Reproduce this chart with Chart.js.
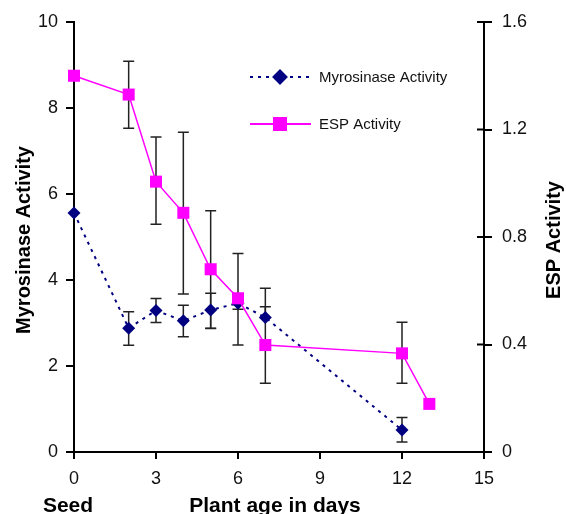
<!DOCTYPE html>
<html>
<head>
<meta charset="utf-8">
<script src="https://cdn.jsdelivr.net/npm/chart.js@4.4.0/dist/chart.umd.min.js"></script>
<style>
  html, body { margin: 0; padding: 0; background: #fff; }
  #wrap { position: relative; width: 566px; height: 514px; }
</style>
</head>
<body>
<div id="wrap"><canvas id="c" width="566" height="514"></canvas></div>
<script>
// ---- Data ----
const myroDays  = [0, 2, 3, 4, 5, 6, 7, 12];
const myroValue = [5.56, 2.88, 3.29, 3.05, 3.30, 3.46, 3.13, 0.51];
const myroHigh  = [null, 3.26, 3.57, 3.41, 3.69, 3.60, 3.38, 0.80];
const myroLow   = [null, 2.48, 3.01, 2.68, 2.88, 3.32, null, 0.23];

const espDays   = [0, 2, 3, 4, 5, 6, 7, 12, 13];
const espValue  = [1.40, 1.33, 1.006, 0.89, 0.68, 0.572, 0.398, 0.367, 0.179];
const espHigh   = [null, 1.454, 1.172, 1.19, 0.898, 0.739, 0.609, 0.483, null];
const espLow    = [null, 1.205, 0.847, 0.588, 0.46, 0.398, 0.256, 0.256, null];

const xTicks     = [0, 3, 6, 9, 12, 15];
const leftTicks  = [0, 2, 4, 6, 8, 10];
const rightTicks = [0, 0.4, 0.8, 1.2, 1.6];

const seriesNames = ['Myrosinase Activity', 'ESP Activity'];
const leftTitle  = 'Myrosinase Activity';
const rightTitle = 'ESP Activity';
const xTitle     = 'Plant age in days';
const xSubLabel  = 'Seed';

// ---- Styling ----
const NAVY = '#000080';
const MAGENTA = '#FF00FF';
const FONT = '"Liberation Sans", Arial, sans-serif';

const toPts = (xs, ys) => xs.map((x, i) => ({ x: x, y: ys[i] }));

const errorBars = {
  id: 'errorBars',
  beforeDatasetsDraw(chart) {
    const ctx = chart.ctx;
    ctx.save();
    ctx.strokeStyle = '#222';
    ctx.lineWidth = 1.5;
    chart.data.datasets.forEach((ds) => {
      const xs = chart.scales.x;
      const ys = chart.scales[ds.yAxisID];
      ds.data.forEach((p, i) => {
        const hi = ds.errHigh[i], lo = ds.errLow[i];
        if (hi == null && lo == null) return;
        const px = xs.getPixelForValue(p.x);
        const py = ys.getPixelForValue(p.y);
        const top = hi != null ? ys.getPixelForValue(hi) : py;
        const bot = lo != null ? ys.getPixelForValue(lo) : py;
        ctx.beginPath();
        ctx.moveTo(px, top); ctx.lineTo(px, bot);
        if (hi != null) { ctx.moveTo(px - 5.5, top); ctx.lineTo(px + 5.5, top); }
        if (lo != null) { ctx.moveTo(px - 5.5, bot); ctx.lineTo(px + 5.5, bot); }
        ctx.stroke();
      });
    });
    ctx.restore();
  }
};

const decorations = {
  id: 'decorations',
  afterDraw(chart) {
    const ctx = chart.ctx;
    const y1 = chart.scales.y1;
    ctx.save();
    // inner half of right-axis tick marks
    ctx.strokeStyle = '#000';
    ctx.lineWidth = 2;
    rightTicks.forEach(v => {
      const py = y1.getPixelForValue(v);
      ctx.beginPath(); ctx.moveTo(y1.left - 7, py); ctx.lineTo(y1.left, py); ctx.stroke();
    });
    // axis titles
    ctx.fillStyle = '#000';
    ctx.font = 'bold 20px ' + FONT;
    ctx.textAlign = 'center';
    ctx.textBaseline = 'middle';
    ctx.save();
    ctx.translate(24, 240);
    ctx.rotate(-Math.PI / 2);
    ctx.fillText(leftTitle, 0, 0);
    ctx.restore();
    ctx.save();
    ctx.translate(554, 240);
    ctx.rotate(-Math.PI / 2);
    ctx.fillText(rightTitle, 0, 0);
    ctx.restore();
    ctx.font = 'bold 21px ' + FONT;
    ctx.textBaseline = 'alphabetic';
    ctx.fillText(xSubLabel, 68, 512);
    ctx.fillText(xTitle, 275, 512);

    // legend
    const items = [
      { y: 77, color: NAVY, dash: [3, 5], style: 'rectRot', r: 6.5 },
      { y: 124, color: MAGENTA, dash: [], style: 'rect', r: 8.5 }
    ];
    ctx.font = '15px ' + FONT;
    ctx.textAlign = 'left';
    ctx.textBaseline = 'middle';
    items.forEach((it, i) => {
      ctx.strokeStyle = it.color;
      ctx.lineWidth = 2;
      ctx.setLineDash(it.dash);
      ctx.beginPath(); ctx.moveTo(250, it.y); ctx.lineTo(311, it.y); ctx.stroke();
      ctx.setLineDash([]);
      ctx.fillStyle = it.color;
      Chart.helpers.drawPoint(ctx, { pointStyle: it.style, radius: it.r, borderWidth: 1, rotation: 0 }, 280, it.y);
      ctx.fill();
      ctx.fillStyle = '#111';
      ctx.fillText(seriesNames[i], 319, it.y + 1);
    });
    ctx.restore();
  }
};

const tickFont = { family: FONT, size: 18 };

new Chart(document.getElementById('c'), {
  type: 'scatter',
  data: {
    datasets: [
      {
        label: seriesNames[1],
        data: toPts(espDays, espValue),
        errHigh: espHigh, errLow: espLow,
        yAxisID: 'y1',
        showLine: true,
        clip: false,
        borderColor: MAGENTA,
        backgroundColor: MAGENTA,
        borderWidth: 1.5,
        pointStyle: 'rect',
        pointRadius: 8.5,
        pointHoverRadius: 8.5,
        pointBorderWidth: 0,
        order: 0
      },
      {
        label: seriesNames[0],
        data: toPts(myroDays, myroValue),
        errHigh: myroHigh, errLow: myroLow,
        yAxisID: 'y',
        showLine: true,
        clip: false,
        borderColor: NAVY,
        backgroundColor: NAVY,
        borderWidth: 2,
        borderDash: [3, 5],
        pointStyle: 'rectRot',
        pointRadius: 6.5,
        pointHoverRadius: 6.5,
        pointBorderWidth: 0,
        order: 1
      }
    ]
  },
  options: {
    responsive: false,
    animation: false,
    events: [],
    layout: { padding: { top: 22, left: 0, right: 0, bottom: 0 } },
    plugins: { legend: { display: false }, tooltip: { enabled: false } },
    scales: {
      x: {
        type: 'linear', min: 0, max: 15,
        afterBuildTicks: (s) => { s.ticks = xTicks.map(v => ({ value: v })); },
        afterFit: (s) => { s.height = 62; },
        ticks: { font: tickFont, color: '#111', padding: 9, maxRotation: 0 },
        grid: { display: true, drawOnChartArea: false, drawTicks: true, tickLength: 7, color: '#000', lineWidth: 2 },
        border: { display: true, color: '#000', width: 2 }
      },
      y: {
        type: 'linear', position: 'left', min: 0, max: 10,
        afterBuildTicks: (s) => { s.ticks = leftTicks.map(v => ({ value: v })); },
        afterFit: (s) => { s.width = 74; },
        ticks: { font: tickFont, color: '#111', padding: 8 },
        grid: { display: true, drawOnChartArea: false, drawTicks: true, tickLength: 8, color: '#000', lineWidth: 2 },
        border: { display: true, color: '#000', width: 2 }
      },
      y1: {
        type: 'linear', position: 'right', min: 0, max: 1.6,
        afterBuildTicks: (s) => { s.ticks = rightTicks.map(v => ({ value: v })); },
        afterFit: (s) => { s.width = 82; },
        ticks: { font: tickFont, color: '#111', padding: 10, callback: (v) => (v === 0 ? '0' : v.toFixed(1)) },
        grid: { display: true, drawOnChartArea: false, drawTicks: true, tickLength: 8, color: '#000', lineWidth: 2 },
        border: { display: true, color: '#000', width: 2 }
      }
    }
  },
  plugins: [errorBars, decorations]
});
</script>
</body>
</html>
